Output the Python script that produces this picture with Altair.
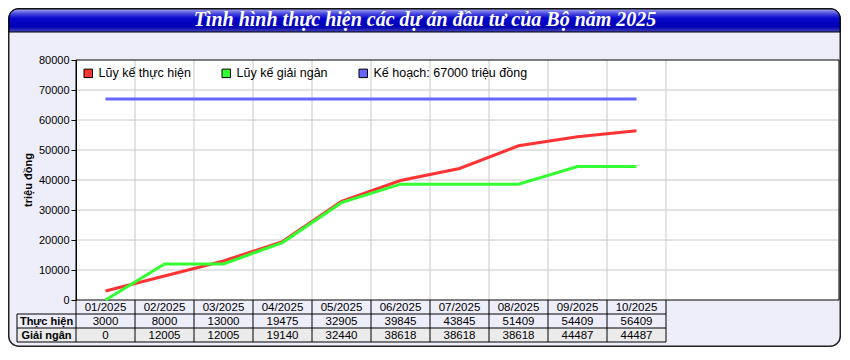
import altair as alt
import pandas as pd

# ---------------- data ----------------
months = ["01/2025", "02/2025", "03/2025", "04/2025", "05/2025",
          "06/2025", "07/2025", "08/2025", "09/2025", "10/2025"]
thuc_hien = [3000, 8000, 13000, 19475, 32905, 39845, 43845, 51409, 54409, 56409]
giai_ngan = [0, 12005, 12005, 19140, 32440, 38618, 38618, 38618, 44487, 44487]
ke_hoach = 67000
series_names = ["Lũy kế thực hiện", "Lũy kế giải ngân", "Kế hoạch: 67000 triệu đồng"]
series_colors = ["#FF3333", "#33FF33", "#6666FF"]
row_labels = ["Thực hiện", "Giải ngân"]
y_ticks = [0, 10000, 20000, 30000, 40000, 50000, 60000, 70000, 80000]
title_text = "Tình hình thực hiện các dự án đầu tư của Bộ năm 2025"
y_title = "triệu đồng"

# ---------------- layout ----------------
PAD_L, PAD_T, PAD_R, PAD_B = 68, 52, 2, 47
W, H = 763, 240          # plot area
FW = PAD_L + W + PAD_R   # full chart width
FH = PAD_T + H + PAD_B   # full chart height
BAND = 59                # width of one month column
n = len(months)
XMAX = W / BAND
ROW = 14
TABLE_W = BAND * n
LABEL_L = -59
SANS = "Liberation Sans"
SERIF = "Liberation Serif"

df = pd.DataFrame({"i": list(range(n)), "month": months, "th": thuc_hien, "gn": giai_ngan})
long = pd.DataFrame({
    "i": list(range(n)) * 2,
    "value": thuc_hien + giai_ngan,
    "series": [series_names[0]] * n + [series_names[1]] * n,
})
ticks_df = pd.DataFrame({"v": y_ticks})
legend_df = pd.DataFrame({"item": series_names})
dummy = pd.DataFrame({"d": [0]})

xscale = alt.Scale(domain=[0, XMAX], nice=False, zero=False)
yscale = alt.Scale(domain=[0, 80000], nice=False, zero=False)
yaxis = alt.Axis(values=y_ticks, grid=False, title=None, zindex=1, domainColor="black",
                 tickColor="black", tickSize=5, labelFontSize=11, labelColor="black",
                 labelFont=SANS, labelPadding=2, format="d")
# line colours (reverse order so this scale is not merged with the legend's scale)
color = alt.Color("series:N",
                  scale=alt.Scale(domain=series_names[::-1], range=series_colors[::-1]),
                  legend=None)
fill_legend = alt.Fill(
    "item:N",
    scale=alt.Scale(domain=series_names, range=series_colors),
    legend=alt.Legend(
        orient="none", legendX=6, legendY=7, direction="horizontal", title=None,
        symbolType="square", symbolSize=72, symbolStrokeWidth=1,
        symbolStrokeColor="black", symbolOpacity=1, zindex=2,
        labelFontSize=12.5, labelFont=SANS, labelColor="black", labelOffset=4,
        columnPadding=29,
    ),
)

def vrect(x, x2, y, y2, **kw):
    return alt.Chart(dummy).mark_rect(**kw).encode(
        x=alt.value(x), x2=alt.value(x2), y=alt.value(y), y2=alt.value(y2))

# frame & title bar
frame = vrect(-PAD_L + 0.75, FW - PAD_L - 0.75, -PAD_T + 0.75, FH - PAD_T - 0.75,
              fill="#EEEEFB", stroke="#222222", strokeWidth=1.5, cornerRadius=10)
title_bar = vrect(-PAD_L + 1, FW - PAD_L - 1, -PAD_T + 1, -28,
                  fill=alt.Gradient(gradient="linear", x1=0, x2=0, y1=0, y2=1, stops=[
                      alt.GradientStop(color="#A8A8F0", offset=0),
                      alt.GradientStop(color="#4A4AE0", offset=0.2),
                      alt.GradientStop(color="#0808CC", offset=0.4),
                      alt.GradientStop(color="#0000B4", offset=0.78),
                      alt.GradientStop(color="#4848B8", offset=1)]),
                  stroke="black", strokeWidth=1,
                  cornerRadiusTopLeft=9, cornerRadiusTopRight=9)
title = alt.Chart(dummy).mark_text(
    text=title_text, font=SERIF, fontSize=20, fontWeight="bold", fontStyle="italic",
    color="white", align="center", baseline="alphabetic"
).encode(x=alt.value(349), y=alt.value(-34))

plot_bg = vrect(0, W, 0, H, fill="white")
gray_row = vrect(LABEL_L, TABLE_W, H + 2 * ROW, H + 3 * ROW, fill="#EBEBEB")

hgrid = alt.Chart(ticks_df).transform_filter(
    "datum.v > 0 && datum.v < 80000"
).mark_rule(color="#C8C8C8", strokeWidth=1).encode(
    y=alt.Y("v:Q", scale=yscale, axis=yaxis), x=alt.value(0), x2=alt.value(W))

vgrid = alt.Chart(df).transform_calculate(b="datum.i + 1").mark_rule(
    color="#C8C8C8", strokeWidth=1).encode(
    x=alt.X("b:Q", scale=xscale, axis=None), y=alt.value(0), y2=alt.value(H))

border = vrect(0, W, 0, H, fill="transparent", stroke="black", strokeWidth=1)

# table
t_vlines = alt.Chart(df).transform_calculate(b="datum.i + 1").mark_rule(
    color="black", strokeWidth=1).encode(
    x=alt.X("b:Q", scale=xscale, axis=None), y=alt.value(H), y2=alt.value(H + 3 * ROW))
t_left = alt.Chart(dummy).mark_rule(color="black").encode(
    x=alt.value(0), y=alt.value(H), y2=alt.value(H + 3 * ROW))
t_left2 = alt.Chart(dummy).mark_rule(color="black").encode(
    x=alt.value(LABEL_L), y=alt.value(H + ROW), y2=alt.value(H + 3 * ROW))
t_h = [alt.Chart(dummy).mark_rule(color="black").encode(
    x=alt.value(LABEL_L), x2=alt.value(TABLE_W), y=alt.value(H + k * ROW))
    for k in (1, 2, 3)]

def row_text(field, k, fmt=None):
    enc = alt.Text(field, format=fmt) if fmt else alt.Text(field)
    return alt.Chart(df).transform_calculate(xc="datum.i + 0.5").mark_text(
        font=SANS, fontSize=11.5, color="black", baseline="middle", align="center"
    ).encode(x=alt.X("xc:Q", scale=xscale, axis=None),
             y=alt.value(H + k * ROW + ROW / 2 + 0.5), text=enc)

t_months = row_text("month:N", 0)
t_th = row_text("th:Q", 1, "d")
t_gn = row_text("gn:Q", 2, "d")
t_lab = [alt.Chart(dummy).mark_text(
    text=row_labels[k], font=SANS, fontSize=11, fontWeight="bold", color="black",
    align="center", baseline="middle").encode(
    x=alt.value(LABEL_L / 2), y=alt.value(H + (k + 1) * ROW + ROW / 2 + 0.5))
    for k in range(2)]

ytitle = alt.Chart(dummy).mark_text(
    text=y_title, font=SANS, fontSize=11, fontWeight="bold", color="black",
    angle=270, align="center", baseline="middle").encode(
    x=alt.value(-47), y=alt.value(H / 2))

plan = alt.Chart(df).transform_calculate(xc="datum.i + 0.5").transform_aggregate(
    x0="min(xc)", x1="max(xc)").transform_calculate(
    value=str(ke_hoach), series="'" + series_names[2] + "'").mark_rule(
    strokeWidth=3).encode(
    x=alt.X("x0:Q", scale=xscale, axis=None), x2="x1:Q",
    y=alt.Y("value:Q", scale=yscale, axis=yaxis), color=color)

lines = alt.Chart(long).transform_calculate(xc="datum.i + 0.5").mark_line(
    strokeWidth=3).encode(
    x=alt.X("xc:Q", scale=xscale, axis=None),
    y=alt.Y("value:Q", scale=yscale, axis=yaxis),
    color=color, order="i:Q")

# off-canvas carrier for the legend (square swatches with black outline)
legend_layer = alt.Chart(legend_df).mark_square(size=72, filled=True, opacity=1).encode(
    x=alt.value(-500), y=alt.value(-500), fill=fill_legend)

chart = alt.layer(
    frame, title_bar, title, plot_bg, gray_row, hgrid, vgrid, border,
    t_vlines, t_left, t_left2, *t_h, t_months, t_th, t_gn, *t_lab, ytitle,
    plan, lines, legend_layer,
).properties(
    width=W, height=H,
    autosize=alt.AutoSizeParams(type="none"),
    padding={"left": PAD_L, "top": PAD_T, "right": PAD_R, "bottom": PAD_B},
).configure(background="white").configure_view(stroke="transparent")

chart.save("out.html", embed_options={"renderer": "svg", "actions": False})
